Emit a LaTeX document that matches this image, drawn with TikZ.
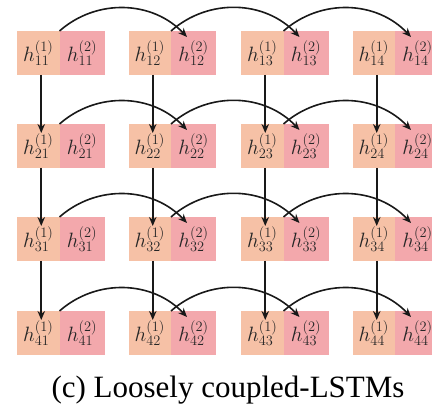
\documentclass[tikz,border=0pt]{standalone}
\usepackage{fontspec}
\usetikzlibrary{arrows.meta}
\newfontfamily\capfont{Liberation Serif}
\definecolor{cellA}{RGB}{246,193,166}
\definecolor{cellB}{RGB}{243,168,172}
\begin{document}
\begin{tikzpicture}[x=1pt,y=1pt,
  cell/.style={anchor=north west, minimum height=44pt, inner sep=0pt, outer sep=0pt,
    text=black!85, font=\fontsize{22}{24}\selectfont},
  lcell/.style={cell, fill=cellA, minimum width=42.5pt},
  rcell/.style={cell, fill=cellB, minimum width=45pt},
  arr/.style={-{Stealth[length=9pt,width=7.5pt]}, line width=1.6pt, black!90}]
\useasboundingbox (0,0) rectangle (432,-404);
% grid of paired hidden states
\foreach \i/\y in {1/31,2/124,3/217,4/311}{
  \foreach \j/\x in {1/17,2/128.5,3/241,4/352.5}{
    \node[lcell] (L\i\j) at (\x,-\y) {$h^{(1)}_{\i\j}$};
    \node[rcell] (R\i\j) at (L\i\j.north east) {$h^{(2)}_{\i\j}$};
  }
}
% vertical links between first-layer states
\foreach \i/\k in {1/2,2/3,3/4}{
  \foreach \j in {1,2,3,4}{
    \draw[arr] ([xshift=3pt]L\i\j.south) -- ([xshift=3pt,yshift=-9pt]L\k\j.north);
  }
}
% arcs into the second-layer state of the next column
\foreach \i in {1,2,3,4}{
  \foreach \j/\k in {1/2,2/3,3/4}{
    \draw[arr] (L\i\j.north east) to[bend left=44] ([xshift=16pt,yshift=-6pt]R\i\k.north west);
  }
}
\node[anchor=base, font=\capfont\fontsize{31}{36}\selectfont] (cap) at (228,-397) {(c) Loosely coupled-LSTMs};
\end{tikzpicture}
\end{document}
